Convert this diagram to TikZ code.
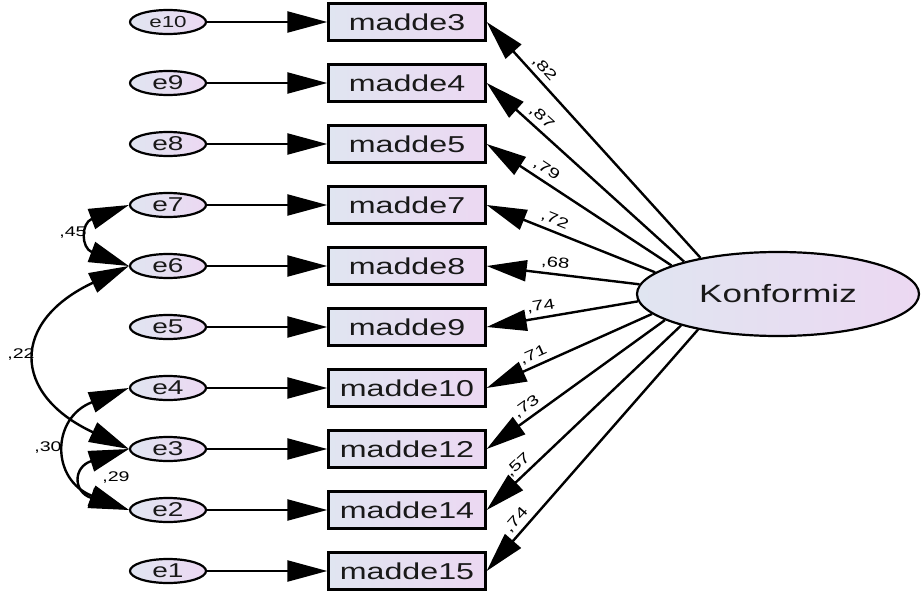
\documentclass[tikz,border=0pt]{standalone}
\usepackage{fontspec}
\setmainfont{Liberation Sans}
\newfontfamily\arialw[FakeStretch=1.4]{Liberation Sans}
\usetikzlibrary{arrows.meta,shapes.geometric}
\definecolor{gleft}{RGB}{224,229,241}
\definecolor{gright}{RGB}{236,216,242}
\tikzset{
  obs/.style={draw, line width=2.4pt, rectangle, minimum width=157pt, minimum height=37pt,
    left color=gleft, right color=gright, inner sep=0pt,
    font=\arialw\fontsize{23}{23}\selectfont, text=black!90},
  err/.style={draw, line width=2.2pt, ellipse, minimum width=76pt, minimum height=24pt,
    left color=gleft, right color=gright, inner sep=0pt,
    font=\arialw\fontsize{20}{20}\selectfont, text=black!90},
  lat/.style={draw, line width=2.2pt, ellipse, minimum width=282pt, minimum height=84pt,
    left color=gleft, right color=gright, inner sep=0pt,
    font=\arialw\fontsize{25}{25}\selectfont, text=black!90},
  tip/.tip={Triangle[length=40pt,width=21pt]},
  path/.style={line width=2.4pt, -tip},
  cov/.style={line width=2.4pt, tip-tip},
  lab/.style={sloped, above, inner sep=4pt, font=\arialw\fontsize{14.5}{14.5}\selectfont},
  clab/.style={font=\arialw\fontsize{14}{14}\selectfont},
}
\begin{document}
\begin{tikzpicture}[x=1pt,y=-1pt]
\useasboundingbox[fill=white] (0,0) rectangle (922,597);
% observed
\node[obs] (m3)  at (407,22)  {madde3};
\node[obs] (m4)  at (407,83)  {madde4};
\node[obs] (m5)  at (407,144) {madde5};
\node[obs] (m7)  at (407,205) {madde7};
\node[obs] (m8)  at (407,266) {madde8};
\node[obs] (m9)  at (407,327) {madde9};
\node[obs] (m10) at (407,388) {madde10};
\node[obs] (m12) at (407,449) {madde12};
\node[obs] (m14) at (407,510) {madde14};
\node[obs] (m15) at (407,571) {madde15};
% errors
\node[err, font=\arialw\fontsize{16}{16}\selectfont] (e10) at (168,22) {e10};
\node[err] (e9) at (168,83)  {e9};
\node[err] (e8) at (168,144) {e8};
\node[err] (e7) at (168,205) {e7};
\node[err] (e6) at (168,266) {e6};
\node[err] (e5) at (168,327) {e5};
\node[err] (e4) at (168,388) {e4};
\node[err] (e3) at (168,449) {e3};
\node[err] (e2) at (168,510) {e2};
\node[err] (e1) at (168,571) {e1};
% latent
\node[lat] (K) at (778,294) {Konformiz};
% error paths
\foreach \e/\m in {e10/m3,e9/m4,e8/m5,e7/m7,e6/m8,e5/m9,e4/m10,e3/m12,e2/m14,e1/m15}
  \draw[path] (\e.east) -- (\m.west);
% loadings
\draw[path] (K.155.5) -- node[lab,pos=0.77]{,82} (m3.east);
\draw[path] (K.161.4) -- node[lab,pos=0.76]{,87} (m4.east);
\draw[path] (K.165.4) -- node[lab,pos=0.71]{,79} (m5.east);
\draw[path] (K.170.7) -- node[lab,pos=0.62]{,72} (m7.east);
\draw[path] (K.176.3) -- node[lab,pos=0.56]{,68} (m8.east);
\draw[path] (K.183)   -- node[lab,pos=0.63]{,74} (m9.east);
\draw[path] (K.189)   -- node[lab,pos=0.69]{,71} (m10.east);
\draw[path] (K.193.7) -- node[lab,pos=0.74]{,73} (m12.east);
\draw[path] (K.198.6) -- node[lab,pos=0.80]{,57} (m14.east);
\draw[path] (K.204)   -- node[lab,pos=0.82]{,74} (m15.east);
% covariances
\draw[cov] (e7.west) .. controls +(-48,18) and +(-48,-18) .. (e6.west);
\draw[cov] (e6.west) .. controls +(-118,55) and +(-118,-55) .. (e3.west);
\draw[cov] (e4.west) .. controls +(-78,30) and +(-78,-30) .. (e2.west);
\draw[cov] (e3.west) .. controls +(-56,18) and +(-56,-18) .. (e2.west);
\node[clab] (c45) at (73,233) {,45};
\node[clab] (c22) at (21,355) {,22};
\node[clab] (c30) at (48,448) {,30};
\node[clab] (c29) at (116,478) {,29};
\end{tikzpicture}
\end{document}
